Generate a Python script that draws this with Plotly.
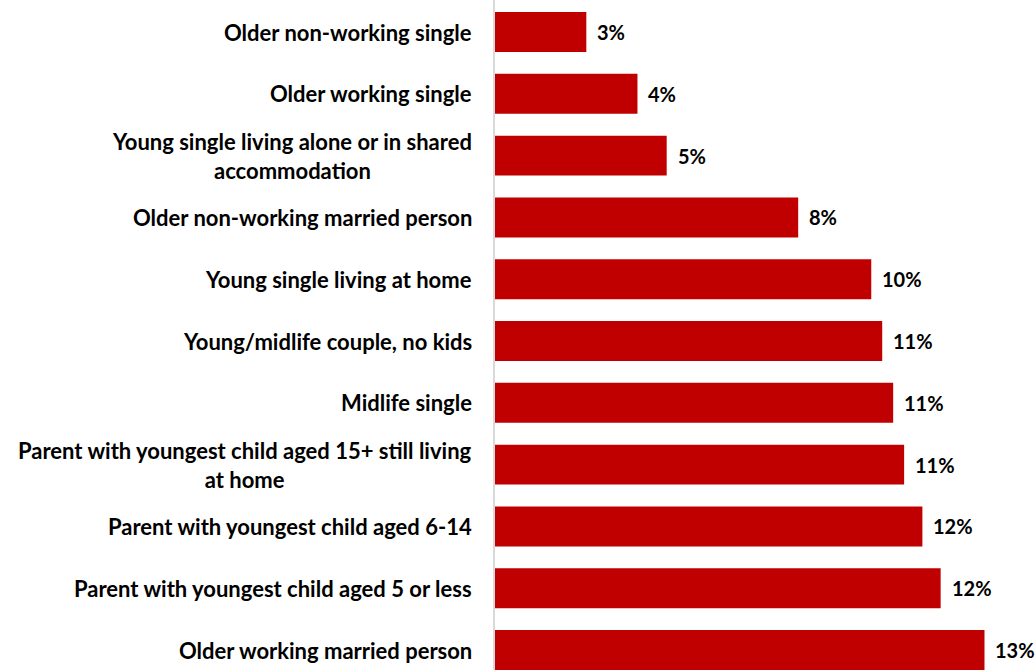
import plotly.graph_objects as go

# Household life-stage segments, top to bottom
segments = [
    "Older non-working single",
    "Older working single",
    "Young single living alone or in shared<br>accommodation",
    "Older non-working married person",
    "Young single living at home",
    "Young/midlife couple, no kids",
    "Midlife single",
    "Parent with youngest child aged 15+ still living<br>at home",
    "Parent with youngest child aged 6-14",
    "Parent with youngest child aged 5 or less",
    "Older working married person",
]
# Share of respondents (%)
shares = [2.5, 3.9, 4.7, 8.3, 10.3, 10.6, 10.9, 11.2, 11.7, 12.2, 13.4]

BAR_RED = "#C00000"
FONT = "Lato"

fig = go.Figure(
    go.Bar(
        x=shares,
        y=segments,
        orientation="h",
        marker=dict(color=BAR_RED, line=dict(width=0)),
        hoverinfo="skip",
    )
)

# Category labels (centred multi-line text, right-aligned against the axis)
for seg in segments:
    fig.add_annotation(
        x=0, xref="paper", y=seg, yref="y",
        text=seg, showarrow=False,
        xanchor="right", yanchor="middle", align="center",
        xshift=-21,
        font=dict(family=FONT, size=22, color="#000000", weight="bold"),
    )

# Value labels at the end of each bar (whole-percent, rounded half up)
for seg, v in zip(segments, shares):
    fig.add_annotation(
        x=v, xref="x", y=seg, yref="y",
        text=f"{int(v + 0.5)}%", showarrow=False,
        xanchor="left", yanchor="middle",
        xshift=9,
        font=dict(family=FONT, size=20, color="#000000", weight="bold"),
    )

fig.update_layout(
    width=1036, height=670,
    margin=dict(l=495, r=0, t=0, b=0),
    paper_bgcolor="white", plot_bgcolor="white",
    bargap=0.353,
    showlegend=False,
    xaxis=dict(range=[0, 14.81], visible=False, fixedrange=True),
    yaxis=dict(
        type="category",
        categoryorder="array", categoryarray=segments,
        range=[10.323, -0.518],
        showticklabels=False, showgrid=False, zeroline=False,
        showline=True, linecolor="#D9D9D9", linewidth=1.5,
        ticks="", fixedrange=True,
    ),
)

fig.write_html("out.html")
